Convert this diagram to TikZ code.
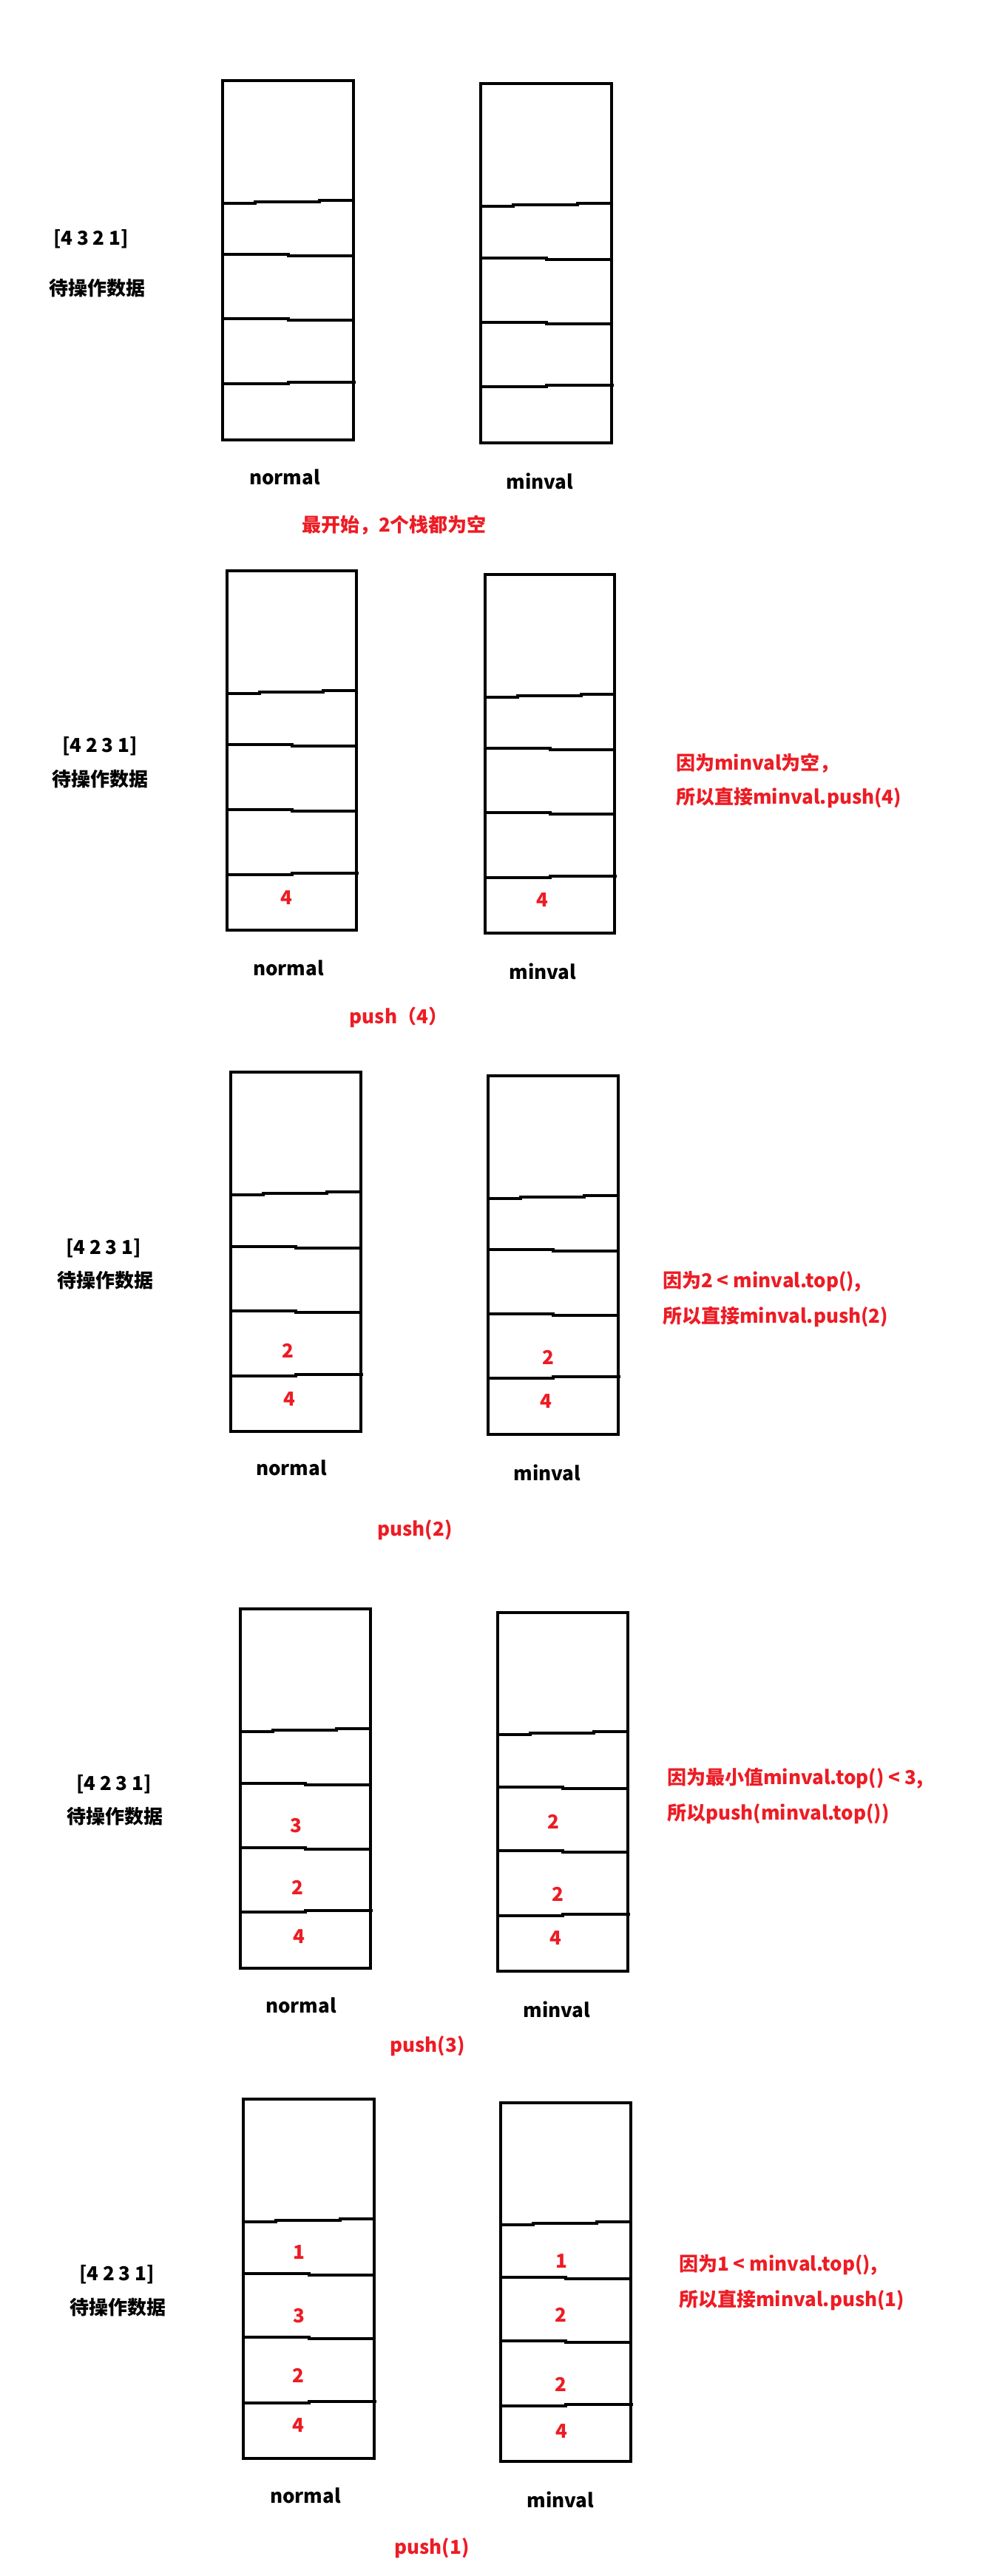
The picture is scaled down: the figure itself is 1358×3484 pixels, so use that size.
\documentclass[tikz,border=0pt]{standalone}
\usepackage{fontspec}
\setmainfont{Noto Sans CJK SC}
\definecolor{pred}{RGB}{237,28,36}
\tikzset{
  lbl/.style={font=\fontsize{26}{30}\selectfont\bfseries, inner sep=0pt},
  blk/.style={lbl, text=black},
  rd/.style={lbl, text=pred},
  rdl/.style={lbl, text=pred, anchor=west},
  stk/.style={line width=4pt, draw=black},
}
\newcommand\drawstack[8]{%
  \pgfmathsetmacro\xa{#1+0.25*(#3-#1)}%
  \pgfmathsetmacro\xb{#1+0.74*(#3-#1)}%
  \pgfmathsetmacro\xm{#1+0.5*(#3-#1)}%
  \pgfmathsetmacro\xe{#3+3}%
  \draw[stk] (#1,#2) rectangle (#3,#4);
  \draw[stk] (#1,#5+2) -- (\xa,#5+2) -- (\xa,#5) -- (\xb,#5) -- (\xb,#5-2) -- (#3,#5-2);
  \draw[stk] (#1,#6-1) -- (\xm,#6-1) -- (\xm,#6+1) -- (#3,#6+1);
  \draw[stk] (#1,#7-1) -- (\xm,#7-1) -- (\xm,#7+1) -- (#3,#7+1);
  \draw[stk] (#1,#8+1) -- (\xm,#8+1) -- (\xm,#8-1) -- (\xe,#8-1);
}
\begin{document}
\begin{tikzpicture}[x=1pt,y=-1pt]
\fill[white] (0,0) rectangle (1358,3484);
\useasboundingbox (0,0) rectangle (1358,3484);

% ---------- Panel 1 ----------
\drawstack{301}{109.5}{478}{595}{273}{345}{432}{518}
\drawstack{650}{113}{827}{599}{277}{350}{437}{522}
\node[blk] (a1) at (123,323) {[4 3 2 1]};
\node[blk] (b1) at (131,390) {待操作数据};
\node[blk] (n1) at (385,645) {normal};
\node[blk] (m1) at (730,651) {minval};
\node[rd] (c1) at (533,710) {最开始，2个栈都为空};

% ---------- Panel 2 ----------
\drawstack{307}{772}{482}{1258}{936}{1008}{1096}{1182}
\drawstack{656}{776.5}{831}{1262}{941}{1013}{1100}{1186}
\node[blk] (a2) at (135,1009) {[4 2 3 1]};
\node[blk] (b2) at (135,1054) {待操作数据};
\node[blk] (n2) at (390,1309) {normal};
\node[blk] (m2) at (734,1314) {minval};
\node[rdl] (r2a) at (914,1032) {因为minval为空，};
\node[rdl] (r2b) at (914,1079) {所以直接minval.push(4)};
\node[rd] (c2) at (539,1376) {push（4）};
\node[rd] (v2a) at (387,1214) {4};
\node[rd] (v2b) at (733.5,1217.5) {4};

% ---------- Panel 3 ----------
\drawstack{312}{1450}{488}{1935.5}{1614}{1687}{1774}{1860}
\drawstack{660}{1455}{836}{1940}{1619}{1691}{1778}{1863}
\node[blk] (a3) at (140,1688) {[4 2 3 1]};
\node[blk] (b3) at (142,1732) {待操作数据};
\node[blk] (n3) at (394,1985.5) {normal};
\node[blk] (m3) at (740,1992) {minval};
\node[rdl] (r3a) at (896,1733) {因为2 < minval.top(),};
\node[rdl] (r3b) at (896,1781) {所以直接minval.push(2)};
\node[rd] (c3) at (561,2069) {push(2)};
\node[rd] (v3a) at (389,1827) {2};
\node[rd] (v3b) at (391.5,1892) {4};
\node[rd] (v3c) at (741,1836) {2};
\node[rd] (v3d) at (738,1895) {4};

% ---------- Panel 4 ----------
\drawstack{325}{2176}{501}{2662}{2340}{2413}{2500}{2585}
\drawstack{673}{2181}{849}{2666}{2344}{2418}{2504}{2590}
\node[blk] (a4) at (154,2413) {[4 2 3 1]};
\node[blk] (b4) at (155,2457) {待操作数据};
\node[blk] (n4) at (407,2712) {normal};
\node[blk] (m4) at (753,2718) {minval};
\node[rdl] (r4a) at (902,2405) {因为最小值minval.top() < 3,};
\node[rdl] (r4b) at (902,2453) {所以push(minval.top())};
\node[rd] (c4) at (578,2767.5) {push(3)};
\node[rd] (v4a) at (400,2469) {3};
\node[rd] (v4b) at (402,2553) {2};
\node[rd] (v4c) at (404.5,2619) {4};
\node[rd] (v4d) at (748,2464) {2};
\node[rd] (v4e) at (754,2561.5) {2};
\node[rd] (v4f) at (751,2621) {4};

% ---------- Panel 5 ----------
\drawstack{329}{2839}{506}{3325}{3003}{3076}{3162}{3249}
\drawstack{677}{2844}{853}{3329}{3007}{3080.5}{3167}{3253}
\node[blk] (a5) at (158,3076) {[4 2 3 1]};
\node[blk] (b5) at (159,3121) {待操作数据};
\node[blk] (n5) at (413,3375) {normal};
\node[blk] (m5) at (758,3381) {minval};
\node[rdl] (r5a) at (918,3063.5) {因为1 < minval.top(),};
\node[rdl] (r5b) at (918,3111) {所以直接minval.push(1)};
\node[rd] (c5) at (584,3446) {push(1)};
\node[rd] (v5a) at (404.5,3046) {1};
\node[rd] (v5b) at (404.5,3132) {3};
\node[rd] (v5c) at (403,3213) {2};
\node[rd] (v5d) at (403,3280) {4};
\node[rd] (v5e) at (759.6,3058) {1};
\node[rd] (v5f) at (758,3130.5) {2};
\node[rd] (v5g) at (758,3224.5) {2};
\node[rd] (v5h) at (759.6,3288) {4};
\end{tikzpicture}
\end{document}
